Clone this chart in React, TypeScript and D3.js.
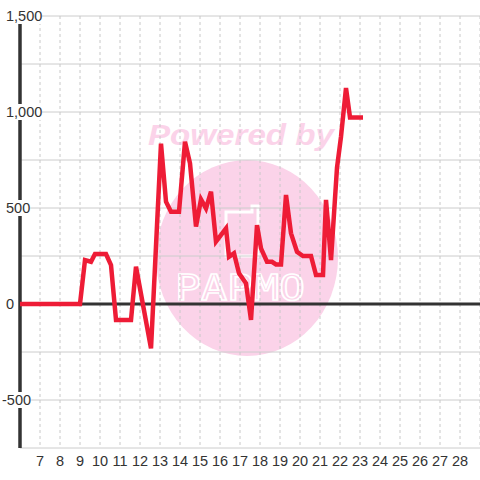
import React from "react";
import * as d3 from "d3";

const hours = [6, 9, 9.25, 9.55, 9.75, 10.3, 10.55, 10.8, 11.55, 11.8, 12.55, 13.05, 13.3, 13.55, 13.95, 14.25, 14.5, 14.8, 15.05, 15.3, 15.55, 15.8, 16.3, 16.45, 16.7, 16.95, 17.3, 17.55, 17.85, 18.05, 18.35, 18.6, 18.8, 19.05, 19.3, 19.55, 19.85, 20.15, 20.55, 20.8, 21.15, 21.3, 21.55, 21.85, 22.05, 22.3, 22.5, 23.15];
const values = [0, 0, 229, 220, 260, 260, 203, -83, -83, 194, -231, 835, 533, 481, 481, 845, 733, 403, 545, 498, 585, 325, 394, 246, 264, 160, 108, -83, 411, 290, 220, 220, 206, 206, 568, 368, 272, 250, 250, 151, 151, 542, 229, 710, 871, 1125, 972, 972];
const xTicks = [7, 8, 9, 10, 11, 12, 13, 14, 15, 16, 17, 18, 19, 20, 21, 22, 23, 24, 25, 26, 27, 28];
const yLabelTicks = [1500, 1000, 500, 0, -500];
const yGridTicks = [1500, 1250, 1000, 750, 500, 250, 0, -250, -500, -750];

export default function App() {
  const W = 480, H = 480;
  const left = 20, right = 480, top = 16, bottom = 448;
  const x = d3.scaleLinear().domain([6, 29]).range([left, right]);
  const y = d3.scaleLinear().domain([-750, 1500]).range([bottom, top]);
  const pts: [number, number][] = hours.map((h, i) => [h, values[i]]);
  const line = d3.line<[number, number]>().x(d => x(d[0])).y(d => y(d[1]));
  const fmt = d3.format(",");
  const font = "'Liberation Sans', Arial, sans-serif";
  const pink = "#fbd3e9";
  const cx = 247, cy = 258;

  return (
    <svg width={W} height={H} style={{ position: "absolute", left: 0, top: 0, background: "#fff" }}>
      <rect x={0} y={0} width={W} height={H} fill="#ffffff" />
      {/* watermark */}
      <g>
        <ellipse cx={cx} cy={cy} rx={91} ry={98} fill={pink} />
        <text x={241} y={145} textAnchor="middle" fontFamily={font} fontWeight="bold" fontStyle="italic" fontSize={30} fill={pink} textLength={186} lengthAdjust="spacingAndGlyphs">Powered by</text>
        <path d={`M ${cx - 21} 212 h 26 v -6 h 6 v 50 h -32 Z`} fill="none" stroke="#ffffff" strokeWidth={3} />
        <text x={cx - 7} y={300} textAnchor="middle" fontFamily="'DejaVu Sans Mono', monospace" fontSize={36} fill="none" stroke="#ffffff" strokeWidth={1.6} textLength={130} lengthAdjust="spacingAndGlyphs">PAPMO</text>
      </g>
      {/* grid */}
      {yGridTicks.map(t => (
        <line key={"h" + t} x1={left} x2={right} y1={y(t)} y2={y(t)} stroke="#cccccc" strokeWidth={1} />
      ))}
      {xTicks.concat([29]).map(t => (
        <line key={"v" + t} x1={x(t)} x2={x(t)} y1={top} y2={bottom} stroke="#c8c8c8" strokeWidth={1} strokeDasharray="3,3" />
      ))}
      {/* zero line & y axis */}
      <line x1={left} x2={right} y1={y(0)} y2={y(0)} stroke="#333333" strokeWidth={3} />
      <line x1={left} x2={left} y1={top} y2={bottom} stroke="#333333" strokeWidth={3.5} />
      {/* data line */}
      <path d={line(pts) || ""} fill="none" stroke="#ee1c36" strokeWidth={4.5} strokeLinejoin="miter" />
      {/* y labels */}
      {yLabelTicks.map(t => {
        const label = t < 0 ? "-" + fmt(-t) : fmt(t);
        const lx = t < 0 ? 2 : 6;
        const w = label.length * 7.8 - (label.includes(",") ? 3.9 : 0) - (t < 0 ? 3 : 0);
        return (
          <g key={"yl" + t}>
            <rect x={lx - 1} y={y(t) - 8} width={w + 2} height={16} fill="#ffffff" />
            <text x={lx} y={y(t) + 5} fontFamily={font} fontSize={14.5} fill="#333333">{label}</text>
          </g>
        );
      })}
      {/* x labels */}
      {xTicks.map(t => (
        <text key={"xl" + t} x={x(t)} y={466} textAnchor="middle" fontFamily={font} fontSize={14.5} fill="#333333">{t}</text>
      ))}
    </svg>
  );
}
